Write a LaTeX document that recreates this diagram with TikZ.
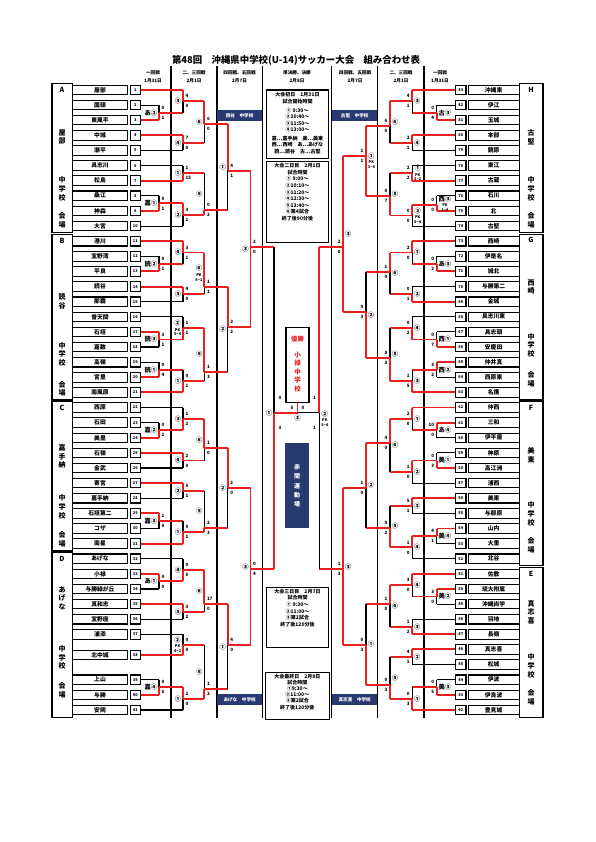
\documentclass[tikz,border=0pt]{standalone}
\usepackage{fontspec}
\setmainfont{Noto Sans CJK JP}
\usetikzlibrary{positioning}
\definecolor{winred}{RGB}{232,32,32}
\definecolor{navy}{RGB}{40,58,112}

\tikzset{
  winline/.style={draw=winred, line width=1.9pt},
  loseline/.style={draw=black, line width=1.1pt},
  boxline/.style={draw=black, line width=1.1pt},
  namebox/.style={draw, line width=1.1pt, minimum width=54.6pt, minimum height=9.5pt, inner sep=0pt, font=\fontsize{5.8}{6}\selectfont\bfseries},
  numbox/.style={draw, line width=1.1pt, minimum width=10.5pt, minimum height=9.5pt, inner sep=0pt, font=\fontsize{3.9}{4}\selectfont\bfseries},
  scorelbl/.style={inner sep=0pt, font=\fontsize{4.5}{4.5}\selectfont\bfseries},
  roundlbl/.style={inner sep=0.2pt, align=center, font=\fontsize{6.3}{6.3}\selectfont\bfseries},
  secttxt/.style={inner sep=0pt, align=center, font=\fontsize{7}{8.8}\selectfont\bfseries},
  headtxt/.style={inner sep=0pt, font=\fontsize{4.6}{5}\selectfont\bfseries},
  infobox/.style={draw, line width=1.1pt, minimum width=61.6pt, inner sep=0pt},
  infotxt/.style={inner sep=0pt, align=center, font=\fontsize{5}{6.6}\selectfont\bfseries},
  venuebar/.style={fill=navy, text=white, minimum width=45.3pt, minimum height=10.7pt, inner sep=0pt, font=\fontsize{4.6}{5}\selectfont\bfseries}
}

\newcommand{\pk}[2]{#1\\[-1pt]{\fontsize{3.8}{3.8}\selectfont PK}\\[-1.5pt]{\fontsize{3.8}{3.8}\selectfont #2}}

\newcommand{\bout}[6]{%
  \ifcase#6\relax\or
    \draw[winline] (#1,#2) -- (#1,#4);
    \draw[loseline] (#1,#4) -- (#1,#3);
  \or
    \draw[loseline] (#1,#2) -- (#1,#4);
    \draw[winline] (#1,#4) -- (#1,#3);
  \else
    \draw[winline] (#1,#2) -- (#1,#3);
  \fi
  \draw[winline] (#1,#4) -- (#5,#4);
}
\newcommand{\lbout}[9]{%
  \bout{#1}{#2}{#3}{#4}{#5}{#6}%
  \node[roundlbl, anchor=east] at ({#1-1.5},{(#2+#3)/2}) {#7};
  \node[scorelbl, anchor=west] at ({#1+2.5},{#4-5}) {#8};
  \node[scorelbl, anchor=west] at ({#1+2.5},{#4+5}) {#9};
}
\newcommand{\rbout}[9]{%
  \bout{#1}{#2}{#3}{#4}{#5}{#6}%
  \node[roundlbl, anchor=west] at ({#1+1.5},{(#2+#3)/2}) {#7};
  \node[scorelbl, anchor=east] at ({#1-2.5},{#4-5}) {#8};
  \node[scorelbl, anchor=east] at ({#1-2.5},{#4+5}) {#9};
}

\begin{document}
\begin{tikzpicture}[x=1pt,y=-1pt]
  \useasboundingbox (0,0) rectangle (595,842);
  \fill[white] (0,0) rectangle (595,842);

  \node[font=\fontsize{9.4}{10}\selectfont\bfseries] (title) at (296,60) {第48回　沖縄県中学校(U-14)サッカー大会　組み合わせ表};

  \foreach \x in {171,217,262.3,331.7,377.7,424}
    \draw[loseline] (\x,66) -- (\x,718);

  \foreach \x/\a/\b in {153/一回戦/1月31日, 194/二、三回戦/2月1日, 239.5/四回戦、五回戦/2月7日, 297/準決勝、決勝/2月8日,
                        355/四回戦、五回戦/2月7日, 401/二、三回戦/2月1日, 440/一回戦/1月31日} {
    \node[headtxt] at (\x,72.7) {\a};
    \node[headtxt] at (\x,81) {\b};
  }

  \draw[boxline] (52,83.5) rectangle (72.7,232.8);
  \draw[boxline] (52,234.5) rectangle (72.7,399.2);
  \draw[boxline] (52,401) rectangle (72.7,550.5);
  \draw[boxline] (52,552) rectangle (72.7,717.5);
  \draw[boxline] (519.5,83.5) rectangle (543,232.8);
  \draw[boxline] (519.5,234.5) rectangle (543,399.2);
  \draw[boxline] (519.5,401) rectangle (543,565.5);
  \draw[boxline] (519.5,567.2) rectangle (543,717.5);

  \node[secttxt] (sA) at (62,90) {A};
  \node[secttxt] at (62,137) {屋\\部};
  \node[secttxt] at (62,189) {中\\学\\校};
  \node[secttxt] at (62,220) {会\\場};
  \node[secttxt] (sB) at (62,240.5) {B};
  \node[secttxt] at (62,301.7) {読\\谷};
  \node[secttxt] at (62,354.3) {中\\学\\校};
  \node[secttxt] at (62,388.8) {会\\場};
  \node[secttxt] (sC) at (62,407.7) {C};
  \node[secttxt] at (62,456.5) {嘉\\手\\納};
  \node[secttxt] at (62,506.8) {中\\学\\校};
  \node[secttxt] at (62,539.5) {会\\場};
  \node[secttxt] (sD) at (62,559) {D};
  \node[secttxt] at (62,598.3) {あ\\げ\\な};
  \node[secttxt] at (62,657.5) {中\\学\\校};
  \node[secttxt] at (62,690.7) {会\\場};
  \node[secttxt] (sH) at (531,90) {H};
  \node[secttxt] at (531,137) {古\\堅};
  \node[secttxt] at (531,189) {中\\学\\校};
  \node[secttxt] at (531,220.5) {会\\場};
  \node[secttxt] (sG) at (531,240) {G};
  \node[secttxt] at (531,287) {西\\崎};
  \node[secttxt] at (531,345.2) {中\\学\\校};
  \node[secttxt] at (531,379.7) {会\\場};
  \node[secttxt] (sF) at (531,408) {F};
  \node[secttxt] at (531,455) {美\\東};
  \node[secttxt] at (531,514) {中\\学\\校};
  \node[secttxt] at (531,545) {会\\場};
  \node[secttxt] (sE) at (531,574) {E};
  \node[secttxt] at (531,612.3) {真\\志\\喜};
  \node[secttxt] at (531,666) {中\\学\\校};
  \node[secttxt] at (531,697.2) {会\\場};

  \foreach \n/\yy/\nm/\xe/\lc in {1/90.0/屋部/183/winline, 2/105.1/国頭/159/loseline, 3/120.2/東風平/159/winline,
      4/135.4/中城/183/winline, 5/150.5/潮平/183/loseline, 6/165.6/具志川/183/loseline, 7/180.7/松島/183/winline,
      8/195.8/桑江/159/loseline, 9/211.0/神森/159/winline, 10/226.1/大宮/183/loseline,
      11/241.2/港川/183/winline, 12/256.3/宜野湾/159/loseline, 13/271.4/平良/159/winline, 14/286.6/読谷/183/winline,
      15/301.7/那覇/183/loseline, 16/316.8/普天間/183/loseline, 17/331.9/石垣/159/winline, 18/347.0/嘉数/159/loseline,
      19/362.2/高嶺/159/loseline, 20/377.3/宮里/159/winline, 21/392.4/南風原/183/winline,
      22/407.5/西原/183/loseline, 23/422.6/石田/159/loseline, 24/437.8/美里/159/winline, 25/452.9/石嶺/183/winline,
      26/468.0/金武/183/loseline, 27/483.1/寄宮/183/winline, 28/498.2/嘉手納/183/loseline, 29/513.4/石垣第二/159/winline,
      30/528.5/コザ/159/loseline, 31/543.6/南星/183/winline,
      32/558.7/あげな/183/loseline, 33/573.8/小禄/159/winline, 34/589.0/与勝緑が丘/159/loseline, 35/604.1/真和志/183/winline,
      36/619.2/宜野座/183/loseline, 37/634.3/浦添/183/loseline, 38/655.0/北中城/183/winline, 39/679.7/上山/159/loseline,
      40/694.8/与勝/159/winline, 41/710.0/安岡/183/loseline} {
    \node[namebox] (t\n) at (100,\yy) {\nm};
    \node[numbox, right=1.7pt of t\n] (n\n) {\n};
    \draw[\lc] (n\n.east) -- (\xe,\yy);
  }

  \foreach \n/\yy/\nm/\xe/\lc in {83/90.0/沖縄東/412.3/winline, 82/105.1/伊江/436.7/loseline, 81/120.2/玉城/436.7/winline,
      80/135.4/本部/412.3/winline, 79/150.5/鏡原/412.3/loseline, 78/165.6/東江/412.3/loseline, 77/180.7/古蔵/412.3/winline,
      76/195.8/石川/436.7/loseline, 75/211.0/北/436.7/winline, 74/226.1/古堅/412.3/loseline,
      73/241.2/西崎/412.3/winline, 72/256.3/伊是名/436.7/loseline, 71/271.4/城北/436.7/winline, 70/286.6/与勝第二/412.3/loseline,
      69/301.7/金城/412.3/winline, 68/316.8/具志川東/412.3/loseline, 67/331.9/具志頭/436.7/loseline, 66/347.0/安慶田/436.7/winline,
      65/362.2/仲井真/436.7/winline, 64/377.3/西原東/436.7/loseline, 63/392.4/名護/412.3/winline,
      62/407.5/仲西/412.3/winline, 61/422.6/三和/436.7/winline, 60/437.8/伊平屋/436.7/loseline, 59/452.9/神原/436.7/loseline,
      58/468.0/高江洲/436.7/winline, 57/483.1/浦西/412.3/loseline, 56/498.2/美東/412.3/winline, 55/513.4/与那原/412.3/loseline,
      54/528.5/山内/436.7/winline, 53/543.6/大里/436.7/loseline, 52/558.7/北谷/412.3/loseline,
      51/573.8/佐敷/412.3/winline, 50/589.0/琉大附属/436.7/winline, 49/604.1/沖縄尚学/436.7/loseline, 48/619.2/羽地/412.3/loseline,
      47/634.3/長嶺/412.3/winline, 46/649.4/真志喜/412.3/winline, 45/664.6/松城/412.3/loseline, 44/679.7/伊波/436.7/loseline,
      43/694.8/伊良波/436.7/winline, 42/710.0/豊見城/412.3/winline} {
    \node[numbox] (n\n) at (460.75,\yy) {\n};
    \node[namebox, minimum width=51pt, right=1pt of n\n] (t\n) {\nm};
    \draw[\lc] (n\n.west) -- (\xe,\yy);
  }

  \lbout{159}{105.1}{120.2}{112.6}{183}{2}{あ②}{0}{1}
  \lbout{159}{195.8}{211.0}{203.4}{183}{2}{嘉①}{0}{1}
  \lbout{159}{256.3}{271.4}{263.8}{183}{2}{読②}{0}{1}
  \lbout{159}{331.9}{347.0}{339.5}{183}{1}{読③}{3}{1}
  \lbout{159}{362.2}{377.3}{369.7}{183}{2}{読①}{0}{4}
  \lbout{159}{422.6}{437.8}{430.2}{183}{2}{嘉②}{0}{2}
  \lbout{159}{513.4}{528.5}{521.0}{183}{1}{嘉③}{1}{0}
  \lbout{159}{573.8}{589.0}{581.4}{183}{1}{あ①}{9}{0}
  \lbout{159}{679.7}{694.8}{687.3}{183}{2}{嘉④}{0}{5}

  \lbout{183}{90.0}{112.6}{101.3}{204.3}{1}{③}{4}{0}
  \lbout{183}{135.4}{150.5}{143.0}{204.3}{1}{④}{7}{0}
  \lbout{183}{165.6}{180.7}{173.2}{204.3}{2}{①}{1}{15}
  \lbout{183}{203.4}{226.1}{214.8}{204.3}{1}{②}{3}{1}
  \lbout{183}{241.2}{263.8}{252.5}{204.3}{1}{④}{3}{1}
  \lbout{183}{286.6}{301.7}{294.2}{204.3}{1}{③}{4}{0}
  \lbout{183}{316.8}{339.5}{328.2}{204.3}{2}{\pk{②}{5−4}}{1}{1}
  \lbout{183}{369.7}{392.4}{381.0}{204.3}{2}{①}{0}{1}
  \lbout{183}{407.5}{430.2}{418.8}{204.3}{2}{③}{1}{2}
  \lbout{183}{452.9}{468.0}{460.5}{204.3}{1}{④}{2}{0}
  \lbout{183}{483.1}{498.2}{490.7}{204.3}{1}{②}{5}{1}
  \lbout{183}{521.0}{543.6}{532.3}{204.3}{2}{①}{0}{1}
  \lbout{183}{558.7}{581.4}{570.0}{204.3}{2}{④}{0}{5}
  \lbout{183}{604.1}{619.2}{611.7}{204.3}{1}{③}{3}{2}
  \lbout{183}{634.3}{655.0}{644.6}{204.3}{2}{\pk{②}{4−2}}{0}{0}
  \lbout{183}{687.3}{710.0}{698.6}{204.3}{1}{①}{2}{0}

  \lbout{204.3}{101.3}{143.0}{124.0}{227.7}{1}{⑥}{6}{0}
  \lbout{204.3}{173.2}{214.8}{210.0}{227.7}{2}{⑤}{0}{2}
  \lbout{204.3}{252.5}{294.2}{286.7}{227.7}{1}{\pk{⑥}{4−1}}{1}{1}
  \lbout{204.3}{328.2}{381.0}{371.7}{227.7}{1}{⑤}{1}{3}
  \lbout{204.3}{418.8}{460.5}{448.3}{227.7}{1}{⑥}{1}{0}
  \lbout{204.3}{490.7}{532.3}{528.3}{227.7}{2}{⑤}{2}{3}
  \lbout{204.3}{570.0}{611.7}{604.3}{227.7}{1}{⑥}{17}{0}
  \lbout{204.3}{644.6}{698.6}{689.3}{227.7}{2}{⑤}{1}{2}

  \lbout{227.7}{124.0}{210.0}{170.7}{250.5}{1}{①}{4}{1}
  \lbout{227.7}{286.7}{371.7}{326.7}{250.5}{1}{②}{3}{2}
  \lbout{227.7}{448.3}{528.3}{488.3}{250.5}{1}{②}{2}{0}
  \lbout{227.7}{604.3}{689.3}{645.0}{250.5}{1}{①}{4}{0}

  \lbout{250.5}{170.7}{326.7}{246.7}{274}{3}{③}{2}{0}
  \lbout{250.5}{488.3}{645.0}{569.0}{274}{3}{③}{0}{4}

  \rbout{436.7}{105.1}{120.2}{112.6}{412.3}{2}{古③}{0}{4}
  \rbout{436.7}{195.8}{211.0}{205.0}{412.3}{2}{\pk{西③}{3−4}}{0}{0}
  \rbout{436.7}{256.3}{271.4}{263.8}{412.3}{2}{あ③}{0}{2}
  \rbout{436.7}{331.9}{347.0}{339.5}{412.3}{2}{西①}{0}{7}
  \rbout{436.7}{362.2}{377.3}{369.7}{412.3}{1}{西②}{3}{2}
  \rbout{436.7}{422.6}{437.8}{430.2}{412.3}{1}{あ④}{10}{0}
  \rbout{436.7}{452.9}{468.0}{460.5}{412.3}{2}{美①}{0}{3}
  \rbout{436.7}{528.5}{543.6}{536.0}{412.3}{1}{美④}{4}{1}
  \rbout{436.7}{589.0}{604.1}{596.5}{412.3}{1}{美②}{3}{0}
  \rbout{436.7}{679.7}{694.8}{687.3}{412.3}{2}{美③}{0}{5}

  \rbout{412.3}{90.0}{112.6}{101.3}{390}{1}{③}{4}{1}
  \rbout{412.3}{135.4}{150.5}{143.0}{390}{1}{④}{2}{1}
  \rbout{412.3}{165.6}{180.7}{173.2}{390}{2}{\pk{①}{3−2}}{2}{2}
  \rbout{412.3}{205.0}{226.1}{215.5}{390}{1}{\pk{②}{5−4}}{0}{0}
  \rbout{412.3}{241.2}{263.8}{252.5}{390}{1}{①}{2}{0}
  \rbout{412.3}{286.6}{301.7}{294.2}{390}{2}{②}{0}{1}
  \rbout{412.3}{316.8}{339.5}{328.2}{390}{2}{④}{0}{2}
  \rbout{412.3}{369.7}{392.4}{381.0}{390}{2}{③}{1}{5}
  \rbout{412.3}{407.5}{430.2}{418.8}{390}{1}{①}{2}{0}
  \rbout{412.3}{460.5}{483.1}{471.8}{390}{1}{②}{1}{0}
  \rbout{412.3}{498.2}{513.4}{505.8}{390}{1}{③}{5}{1}
  \rbout{412.3}{536.0}{558.7}{547.4}{390}{1}{④}{1}{0}
  \rbout{412.3}{573.8}{596.5}{585.2}{390}{1}{④}{3}{0}
  \rbout{412.3}{619.2}{634.3}{626.8}{390}{2}{③}{1}{2}
  \rbout{412.3}{649.4}{664.6}{657.0}{390}{1}{②}{4}{1}
  \rbout{412.3}{687.3}{710.0}{698.6}{390}{2}{①}{0}{3}

  \rbout{390}{101.3}{143.0}{126.0}{366}{1}{⑥}{6}{0}
  \rbout{390}{173.2}{215.5}{195.7}{366}{2}{⑤}{0}{7}
  \rbout{390}{252.5}{294.2}{271.7}{366}{1}{⑥}{1}{0}
  \rbout{390}{328.2}{381.0}{357.7}{366}{2}{⑤}{0}{3}
  \rbout{390}{418.8}{471.8}{442.7}{366}{1}{⑥}{4}{0}
  \rbout{390}{505.8}{547.4}{528.3}{366}{2}{⑤}{0}{2}
  \rbout{390}{585.2}{626.8}{604.0}{366}{1}{⑥}{1}{0}
  \rbout{390}{657.0}{698.6}{685.0}{366}{2}{⑤}{0}{3}

  \rbout{366}{126.0}{195.7}{156.0}{343.3}{3}{\pk{①}{3−4}}{1}{1}
  \rbout{366}{271.7}{357.7}{311.7}{343.3}{2}{②}{0}{3}
  \rbout{366}{442.7}{528.3}{488.3}{343.3}{1}{②}{1}{0}
  \rbout{366}{604.0}{685.0}{645.0}{343.3}{2}{①}{0}{3}

  \rbout{343.3}{156.0}{311.7}{246.7}{319.3}{3}{③}{2}{0}
  \rbout{343.3}{488.3}{645.0}{569.0}{319.3}{3}{③}{1}{3}

  \node[draw, line width=1.3pt, fill=white, minimum width=23pt, minimum height=75pt, inner sep=0pt] (champ) at (297.5,364.8) {};
  \node[text=winred, font=\fontsize{6.3}{7}\selectfont\bfseries, below=6pt of champ.north] (wintitle) {優勝};
  \node[text=winred, align=center, inner sep=0pt, font=\fontsize{6.5}{8.5}\selectfont\bfseries] (winner) at (297.5,372) {小\\禄\\中\\学\\校};

  \coordinate (fin) at (297.5,412.7);
  \bout{274}{246.7}{569.0}{412.7}{297.5}{2}
  \draw[winline] (319.3,246.7) -- (319.3,412.7);
  \draw[loseline] (319.3,412.7) -- (319.3,569.0);
  \draw[loseline] (319.3,412.7) -- (fin);
  \draw[winline] (fin) -- (champ.south);
  \node[roundlbl, anchor=east] at (272.5,412.7) {①};
  \node[scorelbl] at (280,398.3) {0};
  \node[scorelbl] at (280,427.7) {3};
  \node[roundlbl, anchor=west] at (321,418.5) {\pk{②}{5−4}};
  \node[scorelbl] at (314.5,398.3) {1};
  \node[scorelbl] at (314.5,427.7) {1};
  \node[roundlbl] at (297.5,418.5) {③};
  \node[scorelbl] at (292,407.5) {5};
  \node[scorelbl] at (303,407.5) {0};

  \node[fill=navy, text=white, minimum width=24pt, minimum height=85pt, inner sep=0pt, align=center,
        font=\fontsize{6}{9.2}\selectfont\bfseries] (stadium) at (297,485.8) {赤\\間\\運\\動\\場};

  \node[venuebar] (v1) at (239.6,115.3) {読谷　中学校};
  \node[venuebar] (v2) at (354.7,115.3) {古堅　中学校};
  \node[venuebar] (v3) at (239.6,699.7) {あげな　中学校};
  \node[venuebar] (v4) at (354.7,699.5) {真志喜　中学校};

  \node[infobox, minimum height=68.3pt] (day1) at (297.5,124.2) {};
  \node[infotxt, below=2.5pt of day1.north] {大会初日　1月31日\\試合開始時間\\[2.5pt]① 9:30～\\②10:40～\\③11:50～\\④13:00～\\[1.5pt]嘉…嘉手納　美…美東\\西…西崎　あ…あげな\\読…読谷　古…古堅};
  \node[infobox, minimum height=80.3pt] (day2) at (297.5,201.9) {};
  \node[infotxt, below=2pt of day2.north] {大会二日目　2月1日\\試合時間\\① 9:00～\\②10:10～\\③11:20～\\④12:30～\\⑤13:40～\\⑥第4試合\\終了後90分後};
  \node[infobox, minimum height=60pt] (day3) at (297.5,617.3) {};
  \node[infotxt, below=2pt of day3.north] {大会三日目　2月7日\\試合時間\\① 9:30～\\②11:00～\\③第2試合\\終了後120分後};
  \node[infobox, minimum width=64.5pt, minimum height=46.5pt] (day4) at (297.3,695.9) {};
  \node[infotxt, below=2pt of day4.north, font=\fontsize{5}{6.1}\selectfont\bfseries] {大会最終日　2月8日\\試合時間\\①9:30～\\②11:00～\\③第2試合\\終了後120分後};
\end{tikzpicture}
\end{document}
